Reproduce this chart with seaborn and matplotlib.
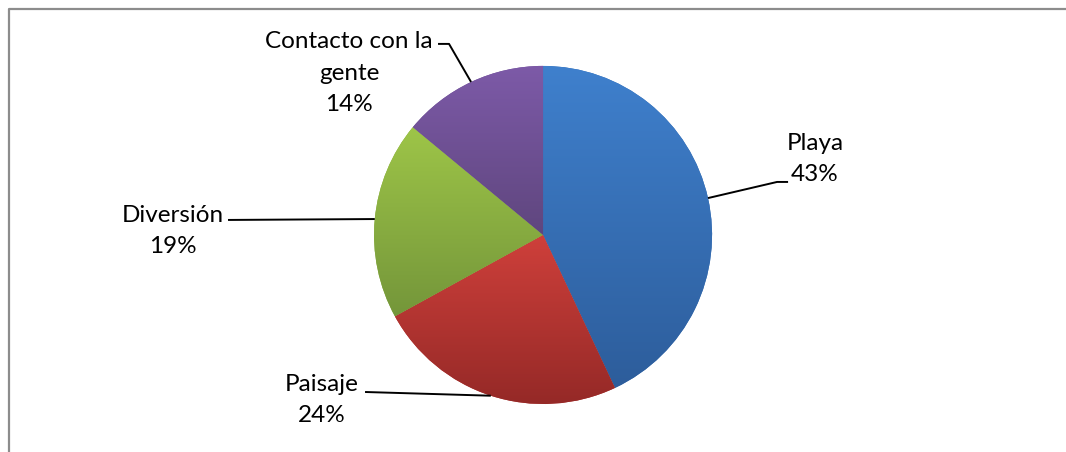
import numpy as np
import matplotlib
matplotlib.use("Agg")
import matplotlib.pyplot as plt
import seaborn as sns
from matplotlib.colors import LinearSegmentedColormap
from matplotlib.lines import Line2D

sns.set_theme(style="white")
plt.rcParams["font.family"] = ["Lato", "DejaVu Sans"]

# Survey shares
categories = ["Playa", "Paisaje", "Diversión", "Contacto con la\ngente"]
shares = [43, 24, 19, 14]
# (top colour, bottom colour) of each slice's gradient
top_colors = ["#3F80CD", "#CF403B", "#9EC548", "#7D5AA8"]
bottom_colors = ["#2D5D9B", "#952927", "#74963A", "#5F467E"]

W, H = 1066, 452
fig = plt.figure(figsize=(W / 100 + 0.001, H / 100 + 0.001), dpi=100)
ax = fig.add_axes([0, 0, 1, 1])

cx, cy, R = 543, H - 235, 169
mid_colors = [sns.blend_palette([t, b], 3)[1] for t, b in zip(top_colors, bottom_colors)]
wedges, _ = ax.pie(shares, colors=mid_colors, startangle=90, counterclock=False,
                   center=(cx, cy), radius=R, frame=True,
                   wedgeprops=dict(linewidth=0))
ax.set_xlim(0, W)
ax.set_ylim(0, H)
ax.set_aspect("equal")
ax.axis("off")

# vertical gradient inside every slice
for w, t, b in zip(wedges, top_colors, bottom_colors):
    bb = w.get_path().get_extents()
    cmap = LinearSegmentedColormap.from_list("g", [b, t])
    grad = np.linspace(0, 1, 256).reshape(-1, 1)
    im = ax.imshow(grad, cmap=cmap, origin="lower", aspect="auto",
                   extent=(bb.x0, bb.x1, bb.y0, bb.y1), zorder=w.get_zorder() + 0.1,
                   interpolation="bilinear")
    im.set_clip_path(w)
ax.set_xlim(0, W)
ax.set_ylim(0, H)

# labels with leader lines
fs = 17.5
labels = [f"{c}\n{v}%" for c, v in zip(categories, shares)]
label_pos = [(815, 159), (322, 400), (173, 231), (349, 73)]
elbows = [[(788, 182), (777, 182)],
          [(365, 392)],
          [(228, 220)],
          [(438, 44), (449, 44)]]
for w, lab, (lx, ly), elb in zip(wedges, labels, label_pos, elbows):
    ang = np.deg2rad((w.theta1 + w.theta2) / 2)
    ex, ey = cx + R * np.cos(ang), cy + R * np.sin(ang)
    pts = [(x, H - y) for x, y in elb] + [(ex, ey)]
    xs, ys = zip(*pts)
    ax.plot(xs, ys, color="black", lw=1.4, solid_capstyle="butt", zorder=5)
    ax.text(lx, H - ly, lab, ha="center", va="center", fontsize=fs,
            linespacing=1.62, color="black", zorder=6)

# chart frame: left and top edges
fx, fy = 8.5 / W, 1 - 9.5 / H
fig.lines.append(Line2D([fx, fx, 1.0], [0.0, fy, fy], transform=fig.transFigure,
                        color="#8C8C8C", linewidth=1.6))

fig.savefig("out.png", dpi=100)
